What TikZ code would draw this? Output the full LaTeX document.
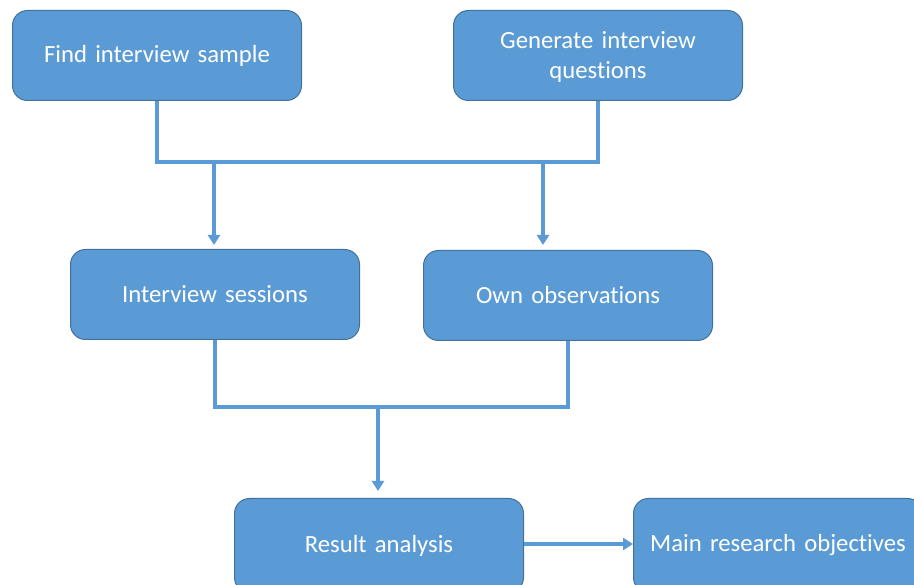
\documentclass[tikz,border=0pt]{standalone}
\usepackage{fontspec}
\setmainfont[Ligatures=NoCommon]{Carlito}
\usetikzlibrary{arrows.meta}
\definecolor{boxfill}{HTML}{5B9BD5}
\definecolor{boxline}{HTML}{41719C}
\definecolor{conn}{HTML}{5B9BD5}
\begin{document}
\begin{tikzpicture}[x=1pt,y=-1pt,
  stepbox/.style={draw=boxline,line width=1pt,fill=boxfill,rounded corners=15pt,
    minimum width=289pt,minimum height=90pt,text width=280pt,align=center,
    text=white,font=\fontsize{24.7}{30}\selectfont,inner sep=0pt,anchor=north west},
  conline/.style={draw=conn,line width=3.5pt},
  conarrow/.style={conline,-{Triangle[length=10pt,width=12pt]}}]
\clip (0,0) rectangle (914,585);
\fill[white] (0,0) rectangle (914,585);
\node[stepbox] (find) at (12,10) {\raisebox{-2pt}{Find interview sample}};
\node[stepbox] (gen) at (453,10) {\rule{0pt}{20pt}Generate interview\\questions};
\node[stepbox] (sess) at (70,249) {\raisebox{-1pt}{Interview sessions}};
\node[stepbox] (obs) at (423,250) {\raisebox{-1pt}{Own observations}};
\node[stepbox,minimum height=94pt] (res) at (234,498) {\raisebox{3pt}{Result analysis}};
\node[stepbox,minimum height=94pt] (main) at (633,498) {\raisebox{3pt}{Main research objectives}};
\coordinate (j1l) at (find.south |- 0,162);
\coordinate (j1r) at (gen.south |- 0,162);
\coordinate (a1) at (214,162);
\coordinate (a2) at (543,162);
\draw[conline] (find.south) -- (j1l) -- (j1r) -- (gen.south);
\draw[conarrow] (a1) -- (214,245);
\draw[conarrow] (a2) -- (543,245);
\coordinate (j2l) at (sess.south |- 0,407);
\coordinate (j2r) at (obs.south |- 0,407);
\coordinate (a3) at (378,407);
\draw[conline] (sess.south) -- (j2l) -- (j2r) -- (obs.south);
\draw[conarrow] (a3) -- (378,491);
\draw[conarrow] (res.east |- 0,544) -- (main.west |- 0,544);
\end{tikzpicture}
\end{document}
